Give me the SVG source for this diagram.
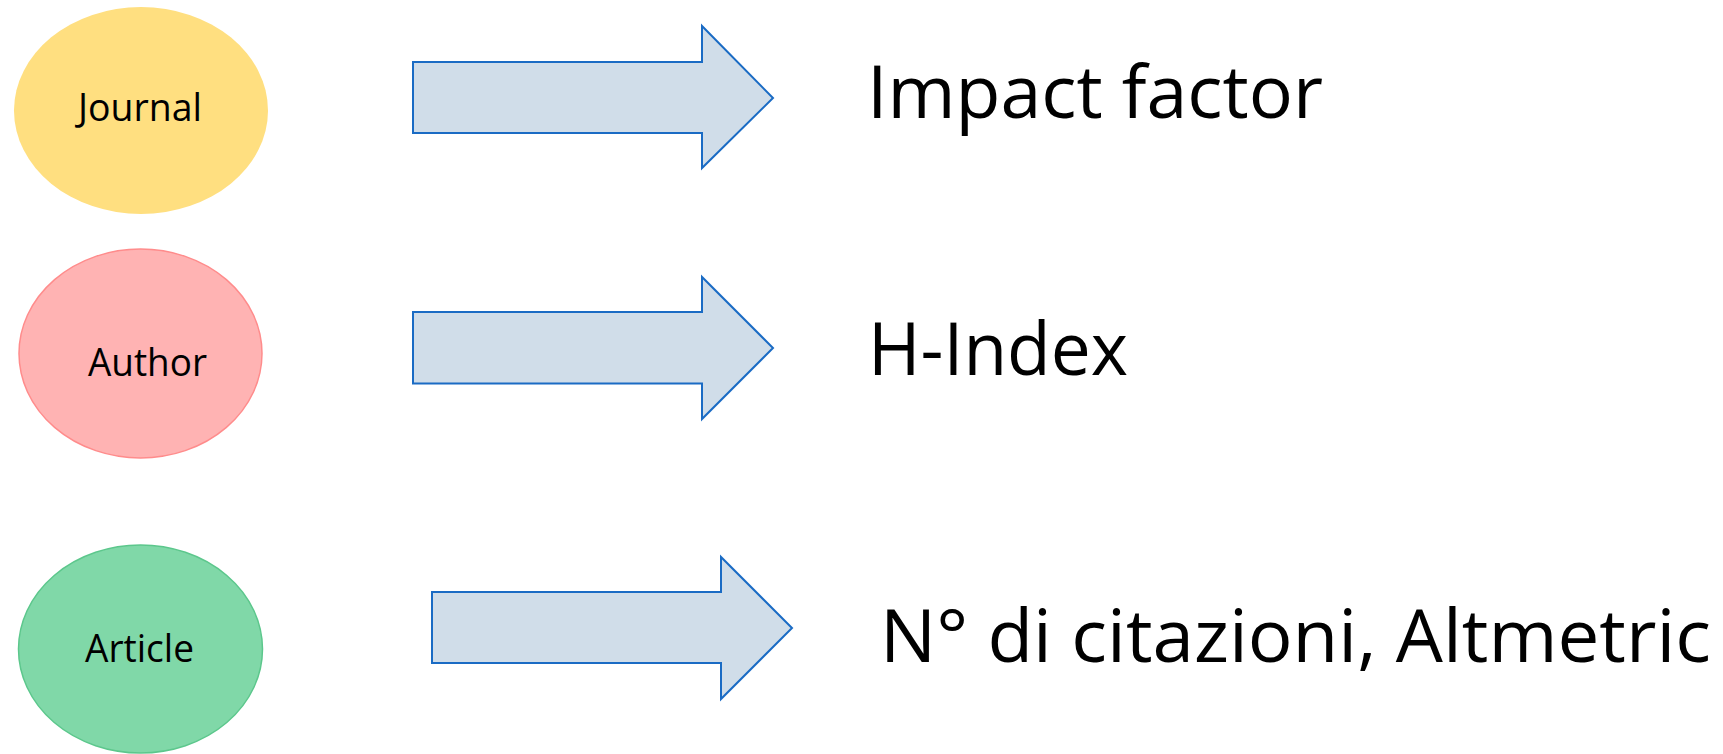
<svg xmlns="http://www.w3.org/2000/svg" width="1723" height="754" viewBox="0 0 1723 754">
<style>
.lbl{font-family:"Open Sans","Noto Sans","Liberation Sans",sans-serif;fill:#000}
.s{font-size:38px}
.b{font-size:74px}
.arrow{fill:#D0DDE9;stroke:#1A6BC4;stroke-width:2;stroke-linejoin:miter}
</style>
<rect width="1723" height="754" fill="#fff"/>
<g id="journal">
<ellipse cx="141" cy="110.5" rx="127" ry="103.5" fill="#FFDF80"/>
<text class="lbl s" x="78" y="121" textLength="124" lengthAdjust="spacingAndGlyphs">Journal</text>
</g>
<g id="author">
<ellipse cx="140.5" cy="353.5" rx="121.5" ry="104.5" fill="#FFB3B3" stroke="#FF8C8C" stroke-width="1.5"/>
<text class="lbl s" x="88" y="376" textLength="119" lengthAdjust="spacingAndGlyphs">Author</text>
</g>
<g id="article">
<ellipse cx="140.5" cy="649" rx="122" ry="104" fill="#80D8A8" stroke="#5CC78C" stroke-width="1.5"/>
<text class="lbl s" x="85" y="662" textLength="109" lengthAdjust="spacingAndGlyphs">Article</text>
</g>
<g id="connectors">
<polygon class="arrow" points="413,62 702,62 702,26 773,98 702,168 702,133 413,133"/>
<polygon class="arrow" points="413,312 702,312 702,277 773,348 702,419 702,383.5 413,383.5"/>
<polygon class="arrow" points="432,592 721,592 721,557 792,628 721,699 721,663 432,663"/>
</g>
<g id="impact-factor">
<text class="lbl b" x="867" y="118" textLength="456" lengthAdjust="spacingAndGlyphs">Impact factor</text>
</g>
<g id="h-index">
<text class="lbl b" x="868" y="375" textLength="260" lengthAdjust="spacingAndGlyphs">H-Index</text>
</g>
<g id="citazioni">
<text class="lbl b" x="880" y="662" textLength="831" lengthAdjust="spacingAndGlyphs">N° di citazioni, Altmetric</text>
</g>
</svg>
